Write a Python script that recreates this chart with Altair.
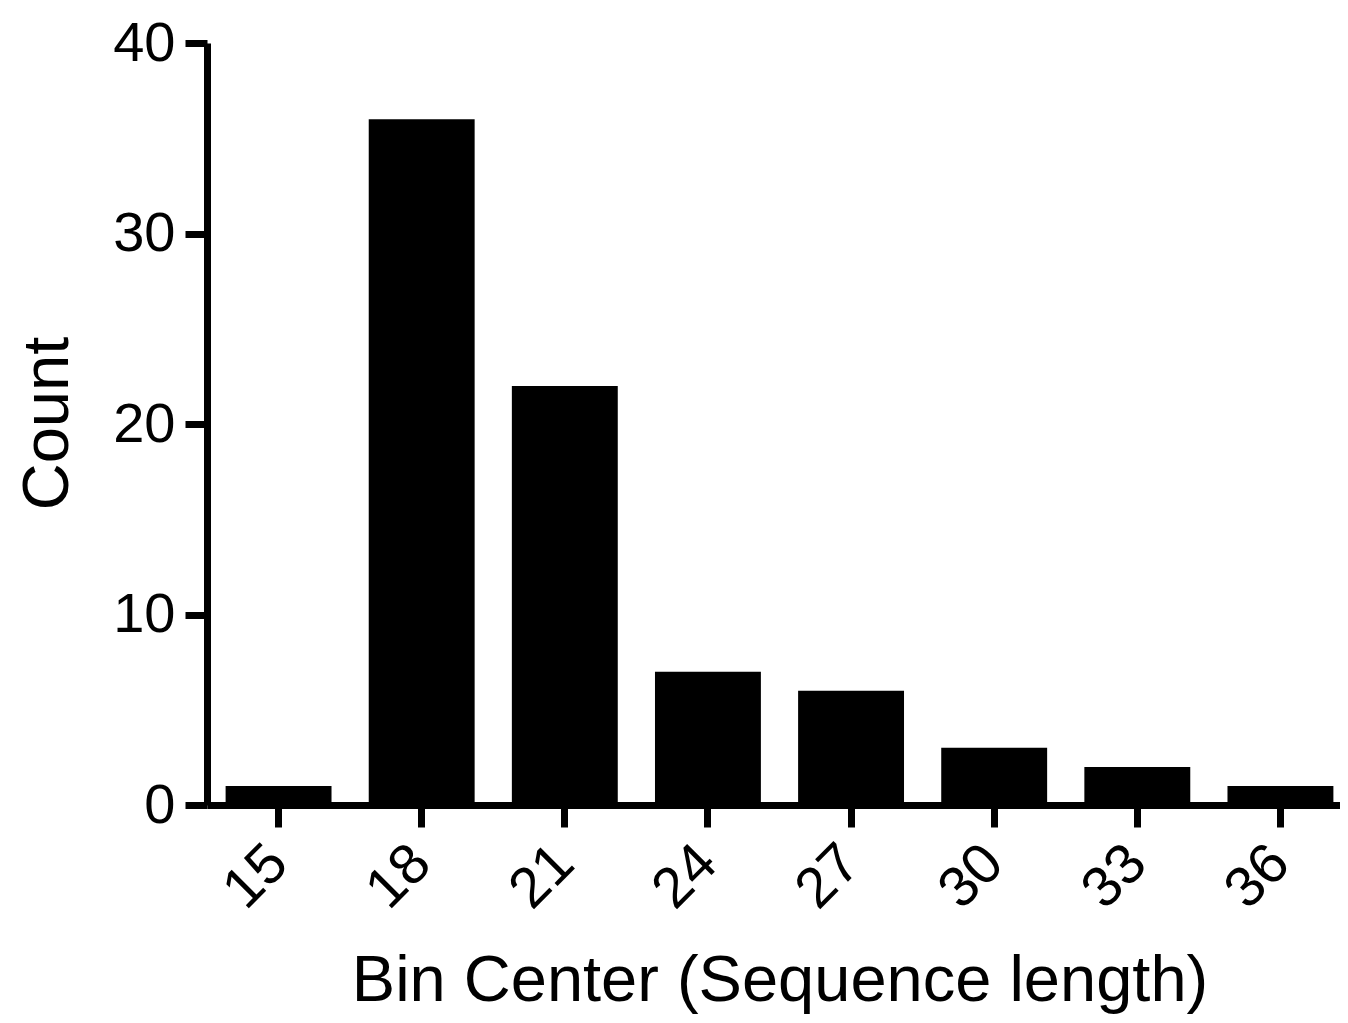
import altair as alt
import pandas as pd

bin_centers = ["15", "18", "21", "24", "27", "30", "33", "36"]
counts = [1, 36, 22, 7, 6, 3, 2, 1]
y_ticks = [0, 10, 20, 30, 40]

df = pd.DataFrame({"bin": bin_centers, "count": counts})

FONT = "Liberation Sans"

chart = (
    alt.Chart(df)
    .mark_bar(color="black")
    .encode(
        x=alt.X(
            "bin:O",
            sort=bin_centers,
            scale=alt.Scale(range=[0, 1145], paddingInner=0.26, paddingOuter=0.13),
            axis=alt.Axis(
                title="Bin Center (Sequence length)",
                labelAngle=315,
                labelAlign="right",
                labelBaseline="middle",
                labelPadding=27,
                labelFontSize=57,
                labelOverlap=False,
                tickSize=22,
                tickWidth=7,
                domainWidth=7,
                titleFontSize=65,
                titleX=572.5,
                titleY=195,
                titleAlign="center",
                titleBaseline="alphabetic",
            ),
        ),
        y=alt.Y(
            "count:Q",
            scale=alt.Scale(domain=[0, 40], nice=False),
            axis=alt.Axis(
                title="Count",
                values=y_ticks,
                labelFontSize=56,
                labelPadding=10,
                labelOverlap=False,
                tickSize=22,
                tickWidth=7,
                domainWidth=7,
                titleFontSize=65,
                titleAngle=270,
                titleX=-140,
                titleY=380,
                titleAlign="center",
                titleBaseline="alphabetic",
            ),
        ),
    )
    .properties(
        width=1133,
        height=762,
        autosize=alt.AutoSizeParams(type="none"),
        padding={"left": 199, "top": 35, "right": 0, "bottom": 210},
    )
    .configure_view(stroke=None)
    .configure_axis(
        grid=False,
        domainColor="black",
        tickColor="black",
        labelColor="black",
        titleColor="black",
        labelFont=FONT,
        titleFont=FONT,
        titleFontWeight="normal",
    )
)

chart.save("out.html", embed_options={"renderer": "svg", "actions": False})
